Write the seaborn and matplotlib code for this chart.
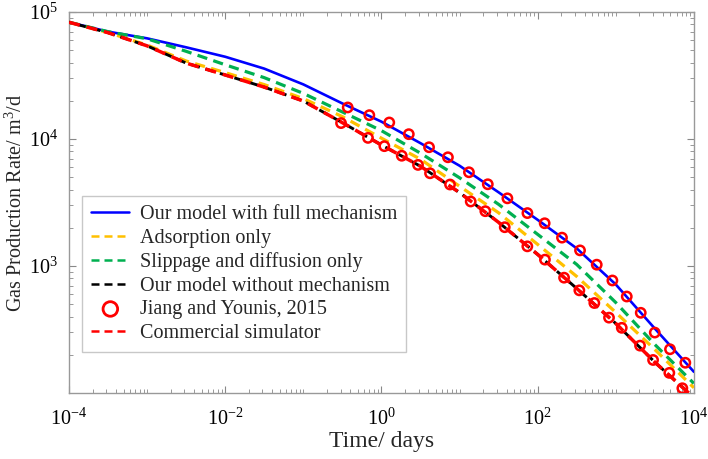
import matplotlib
matplotlib.use("Agg")
import matplotlib.pyplot as plt
import matplotlib.ticker as mticker
import seaborn as sns
import numpy as np
import pandas as pd

# ---------------- data ----------------
time_days = [1e-4, 3.16e-4, 1e-3, 3.16e-3, 1e-2, 3.16e-2, 1e-1, 3.16e-1,
             1e0, 3.16e0, 1e1, 3.16e1, 1e2, 3.16e2, 1e3, 3.16e3, 1e4]

full_mechanism = [83000, 70000, 62000, 52700, 44400, 35800, 26900, 19050,
                  13690, 9270, 6160, 3805, 2310, 1377, 716, 322, 147]
adsorption_only = [83000, 68900, 54900, 41100, 33300, 26800, 20800, 15000,
                   10150, 6930, 4245, 2624, 1480, 828, 431, 220, 110]
slippage_diffusion = [83000, 70000, 61500, 49000, 38400, 30400, 22850, 16330,
                      11630, 7730, 4950, 3060, 1775, 1029, 516, 241, 119]
without_mechanism = [83000, 68700, 54100, 39600, 31900, 25600, 19900, 13440,
                     8970, 6100, 3785, 2207, 1234, 666, 353, 175, 92]
commercial_sim = [83000, 68700, 54100, 39600, 31900, 25600, 19900, 13440,
                  8970, 6100, 3785, 2207, 1234, 666, 353, 175, 92]

jiang_t = [0.37, 0.70, 1.26, 2.24, 4.07, 7.1, 13.2, 23, 41, 74, 123, 205, 349,
           571, 906, 1384, 2090, 3160, 4950, 7780,
           0.304, 0.673, 1.09, 1.82, 2.94, 4.19, 7.55, 13.9, 21.4, 37.9, 73.8,
           124, 218, 342, 532, 820, 1194, 2047, 3006, 4853, 7127]
jiang_q = [17710, 15400, 13490, 10910, 8610, 7180, 5470, 4400, 3410, 2610,
           2170, 1672, 1327, 1024, 769, 575, 428, 299, 221, 173,
           13340, 10200, 8780, 7380, 6250, 5370, 4380, 3220, 2700, 2020, 1428,
           1122, 809, 643, 511, 392, 326, 236, 182, 144, 109]

labels = ["Our model with full mechanism", "Adsorption only",
          "Slippage and diffusion only", "Our model without mechanism",
          "Jiang and Younis, 2015", "Commercial simulator"]
x_major_ticks = [1e-4, 1e-2, 1e0, 1e2, 1e4]
y_major_ticks = [1e3, 1e4, 1e5]

# ---------------- style ----------------
sns.set_style("ticks")
plt.rcParams["font.family"] = ["Liberation Serif", "DejaVu Serif"]
plt.rcParams["mathtext.fontset"] = "custom"
plt.rcParams["mathtext.rm"] = "Liberation Serif"
plt.rcParams["mathtext.it"] = "Liberation Serif:italic"

fig = plt.figure(figsize=(7.08, 4.59), dpi=100)
ax = fig.add_axes([0.0975, 0.1438, 0.8825, 0.8301])

df = pd.DataFrame({"t": time_days, "full": full_mechanism,
                   "ads": adsorption_only, "slip": slippage_diffusion,
                   "wo": without_mechanism, "com": commercial_sim})
jd = pd.DataFrame({"t": jiang_t, "q": jiang_q})

dash = (3.2, 2.0)
sns.lineplot(data=df, x="t", y="full", ax=ax, color="#0000FF", lw=1.9,
             label=labels[0], zorder=3)
sns.lineplot(data=df, x="t", y="ads", ax=ax, color="#FFC000", lw=2.3,
             linestyle=(0, dash), label=labels[1], zorder=3)
sns.lineplot(data=df, x="t", y="slip", ax=ax, color="#00B050", lw=2.3,
             linestyle=(0, dash), label=labels[2], zorder=3)
sns.lineplot(data=df, x="t", y="wo", ax=ax, color="black", lw=2.1,
             linestyle=(2.5, dash), label=labels[3], zorder=3)
sns.scatterplot(data=jd, x="t", y="q", ax=ax, marker="o", s=45,
                facecolor="none", edgecolor="#FF0000", linewidth=1.8,
                label=labels[4], zorder=5)
sns.lineplot(data=df, x="t", y="com", ax=ax, color="#FF0000", lw=2.5,
             linestyle=(0, dash), label=labels[5], zorder=4)

ax.set_xscale("log")
ax.set_yscale("log")
ax.set_xlim(1e-4, 1e4)
ax.set_ylim(100, 1e5)

ax.xaxis.set_major_locator(mticker.FixedLocator(x_major_ticks))
ax.xaxis.set_minor_locator(mticker.LogLocator(base=10, subs=np.arange(1, 10), numticks=100))
ax.yaxis.set_major_locator(mticker.FixedLocator(y_major_ticks))
ax.yaxis.set_minor_locator(mticker.LogLocator(base=10, subs=np.arange(2, 10), numticks=100))
ax.xaxis.set_major_formatter(mticker.LogFormatterSciNotation())
ax.yaxis.set_major_formatter(mticker.LogFormatterSciNotation())
ax.xaxis.set_minor_formatter(mticker.NullFormatter())
ax.yaxis.set_minor_formatter(mticker.NullFormatter())

ax.tick_params(which="both", direction="in", top=True, right=True,
               color="#888888", labelsize=14.5, labelcolor="black")
ax.tick_params(which="major", length=5, width=0.8)
ax.tick_params(axis="x", which="major", pad=11)
ax.tick_params(axis="y", which="major", pad=8)
ax.tick_params(which="minor", length=3, width=0.6)
for sp in ax.spines.values():
    sp.set_color("#999999")
    sp.set_linewidth(1.0)

ax.set_xlabel("Time/ days", fontsize=17, labelpad=1)
ax.set_ylabel("Gas Production Rate/ m$^3$/d", fontsize=14.5)
ax.yaxis.set_label_coords(-0.068, 0.5)

leg = ax.legend(loc="lower left", bbox_to_anchor=(0.021, 0.108),
                fontsize=14.5, frameon=True, fancybox=False, framealpha=1,
                edgecolor="#c8c8c8", handlelength=1.9, handletextpad=0.5,
                labelspacing=0.22, borderpad=0.45, borderaxespad=0)
leg.get_frame().set_linewidth(1.0)
for h in leg.legend_handles:
    if hasattr(h, "get_offsets"):
        h.set_sizes([110])
        h.set_linewidth(2.0)
    else:
        h.set_linewidth(1.8)
        if h.get_linestyle() not in ("-", "solid"):
            h.set_linestyle((0, dash))

fig.savefig("out.png", dpi=100)
